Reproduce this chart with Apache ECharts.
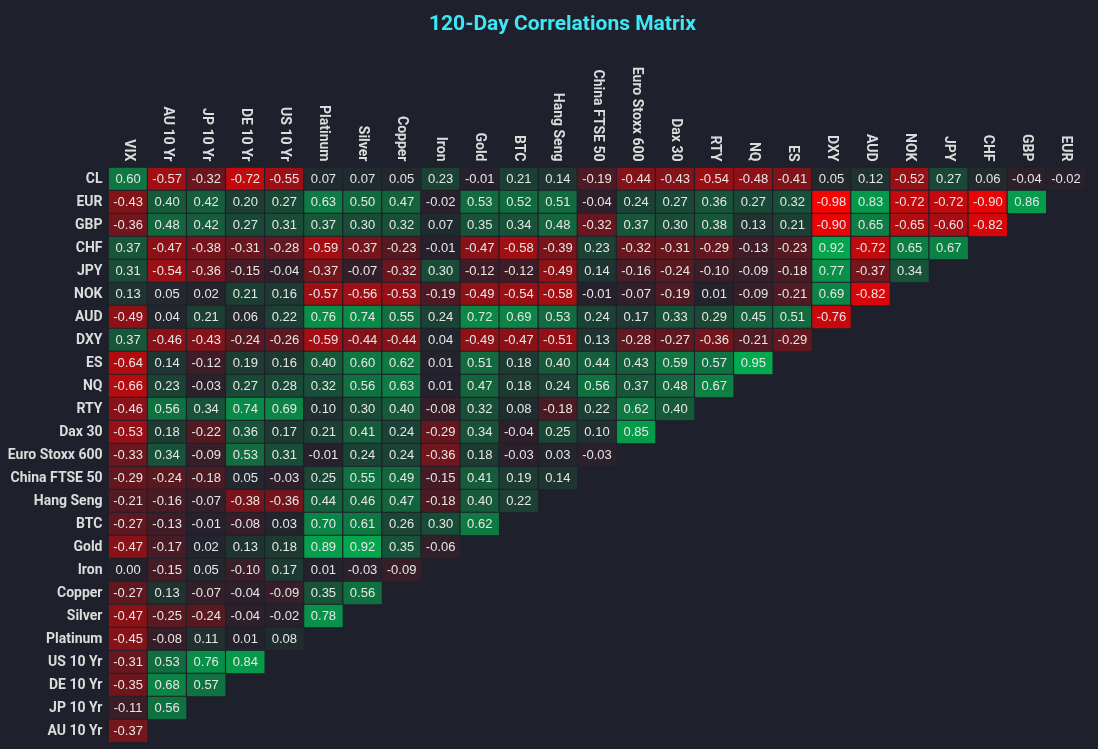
<!DOCTYPE html>
<html>
<head>
<meta charset="utf-8">
<script src="https://cdn.jsdelivr.net/npm/echarts@6/dist/echarts.min.js"></script>
<style>
html,body{margin:0;padding:0;background:#1e212b;}
#chart{width:1098px;height:749px;}
</style>
</head>
<body>
<div id="chart"></div>
<script>
var xCategories = ['VIX','AU 10 Yr','JP 10 Yr','DE 10 Yr','US 10 Yr','Platinum','Silver','Copper','Iron','Gold','BTC','Hang Seng','China FTSE 50','Euro Stoxx 600','Dax 30','RTY','NQ','ES','DXY','AUD','NOK','JPY','CHF','GBP','EUR'];
var yCategories = ['CL','EUR','GBP','CHF','JPY','NOK','AUD','DXY','ES','NQ','RTY','Dax 30','Euro Stoxx 600','China FTSE 50','Hang Seng','BTC','Gold','Iron','Copper','Silver','Platinum','US 10 Yr','DE 10 Yr','JP 10 Yr','AU 10 Yr'];

var rowCL = [0.60,-0.57,-0.32,-0.72,-0.55,0.07,0.07,0.05,0.23,-0.01,0.21,0.14,-0.19,-0.44,-0.43,-0.54,-0.48,-0.41,0.05,0.12,-0.52,0.27,0.06,-0.04,-0.02];
var rowEUR = [-0.43,0.40,0.42,0.20,0.27,0.63,0.50,0.47,-0.02,0.53,0.52,0.51,-0.04,0.24,0.27,0.36,0.27,0.32,-0.98,0.83,-0.72,-0.72,-0.90,0.86];
var rowGBP = [-0.36,0.48,0.42,0.27,0.31,0.37,0.30,0.32,0.07,0.35,0.34,0.48,-0.32,0.37,0.30,0.38,0.13,0.21,-0.90,0.65,-0.65,-0.60,-0.82];
var rowCHF = [0.37,-0.47,-0.38,-0.31,-0.28,-0.59,-0.37,-0.23,-0.01,-0.47,-0.58,-0.39,0.23,-0.32,-0.31,-0.29,-0.13,-0.23,0.92,-0.72,0.65,0.67];
var rowJPY = [0.31,-0.54,-0.36,-0.15,-0.04,-0.37,-0.07,-0.32,0.30,-0.12,-0.12,-0.49,0.14,-0.16,-0.24,-0.10,-0.09,-0.18,0.77,-0.37,0.34];
var rowNOK = [0.13,0.05,0.02,0.21,0.16,-0.57,-0.56,-0.53,-0.19,-0.49,-0.54,-0.58,-0.01,-0.07,-0.19,0.01,-0.09,-0.21,0.69,-0.82];
var rowAUD = [-0.49,0.04,0.21,0.06,0.22,0.76,0.74,0.55,0.24,0.72,0.69,0.53,0.24,0.17,0.33,0.29,0.45,0.51,-0.76];
var rowDXY = [0.37,-0.46,-0.43,-0.24,-0.26,-0.59,-0.44,-0.44,0.04,-0.49,-0.47,-0.51,0.13,-0.28,-0.27,-0.36,-0.21,-0.29];
var rowES = [-0.64,0.14,-0.12,0.19,0.16,0.40,0.60,0.62,0.01,0.51,0.18,0.40,0.44,0.43,0.59,0.57,0.95];
var rowNQ = [-0.66,0.23,-0.03,0.27,0.28,0.32,0.56,0.63,0.01,0.47,0.18,0.24,0.56,0.37,0.48,0.67];
var rowRTY = [-0.46,0.56,0.34,0.74,0.69,0.10,0.30,0.40,-0.08,0.32,0.08,-0.18,0.22,0.62,0.40];
var rowDax30 = [-0.53,0.18,-0.22,0.36,0.17,0.21,0.41,0.24,-0.29,0.34,-0.04,0.25,0.10,0.85];
var rowEuroStoxx600 = [-0.33,0.34,-0.09,0.53,0.31,-0.01,0.24,0.24,-0.36,0.18,-0.03,0.03,-0.03];
var rowChinaFTSE50 = [-0.29,-0.24,-0.18,0.05,-0.03,0.25,0.55,0.49,-0.15,0.41,0.19,0.14];
var rowHangSeng = [-0.21,-0.16,-0.07,-0.38,-0.36,0.44,0.46,0.47,-0.18,0.40,0.22];
var rowBTC = [-0.27,-0.13,-0.01,-0.08,0.03,0.70,0.61,0.26,0.30,0.62];
var rowGold = [-0.47,-0.17,0.02,0.13,0.18,0.89,0.92,0.35,-0.06];
var rowIron = [0.00,-0.15,0.05,-0.10,0.17,0.01,-0.03,-0.09];
var rowCopper = [-0.27,0.13,-0.07,-0.04,-0.09,0.35,0.56];
var rowSilver = [-0.47,-0.25,-0.24,-0.04,-0.02,0.78];
var rowPlatinum = [-0.45,-0.08,0.11,0.01,0.08];
var rowUS10 = [-0.31,0.53,0.76,0.84];
var rowDE10 = [-0.35,0.68,0.57];
var rowJP10 = [-0.11,0.56];
var rowAU10 = [-0.37];

var rows = [rowCL,rowEUR,rowGBP,rowCHF,rowJPY,rowNOK,rowAUD,rowDXY,rowES,rowNQ,rowRTY,rowDax30,rowEuroStoxx600,rowChinaFTSE50,rowHangSeng,rowBTC,rowGold,rowIron,rowCopper,rowSilver,rowPlatinum,rowUS10,rowDE10,rowJP10,rowAU10];

var data = [];
rows.forEach(function(r, yi){
  r.forEach(function(v, xi){ data.push([xi, yi, v]); });
});

var chart = echarts.init(document.getElementById('chart'));
chart.setOption({
  backgroundColor: '#1e212b',
  animation: false,
  title: {
    text: '120-Day Correlations Matrix',
    left: 424,
    top: 9,
    textStyle: {color: '#3ee6f6', fontSize: 21, fontWeight: 'bold', fontFamily: 'Roboto'}
  },
  grid: {left: 108.5, right: 12.5, top: 167.5, bottom: 6.5},
  xAxis: {
    type: 'category',
    position: 'top',
    data: xCategories,
    axisLine: {show: false},
    axisTick: {show: false},
    splitLine: {show: false},
    axisLabel: {rotate: 90, interval: 0, color: '#dcdcdc', fontSize: 14, fontWeight: 'bold', fontFamily: 'Roboto', margin: 6}
  },
  yAxis: {
    type: 'category',
    inverse: true,
    data: yCategories,
    axisLine: {show: false},
    axisTick: {show: false},
    splitLine: {show: false},
    axisLabel: {interval: 0, color: '#dcdcdc', fontSize: 14, fontWeight: 'bold', fontFamily: 'Roboto', margin: 6}
  },
  visualMap: {
    show: false,
    type: 'continuous',
    min: -1,
    max: 1,
    inRange: {color: ['#ff0000', '#24212c', '#00b050']}
  },
  series: [{
    type: 'heatmap',
    data: data,
    itemStyle: {borderColor: '#1e212b', borderWidth: 1.2},
    label: {
      show: true,
      color: '#e6e6e6',
      fontSize: 13,
      fontFamily: 'Liberation Sans',
      formatter: function(p){ return p.value[2].toFixed(2); }
    },
    emphasis: {disabled: true}
  }]
});
</script>
</body>
</html>
